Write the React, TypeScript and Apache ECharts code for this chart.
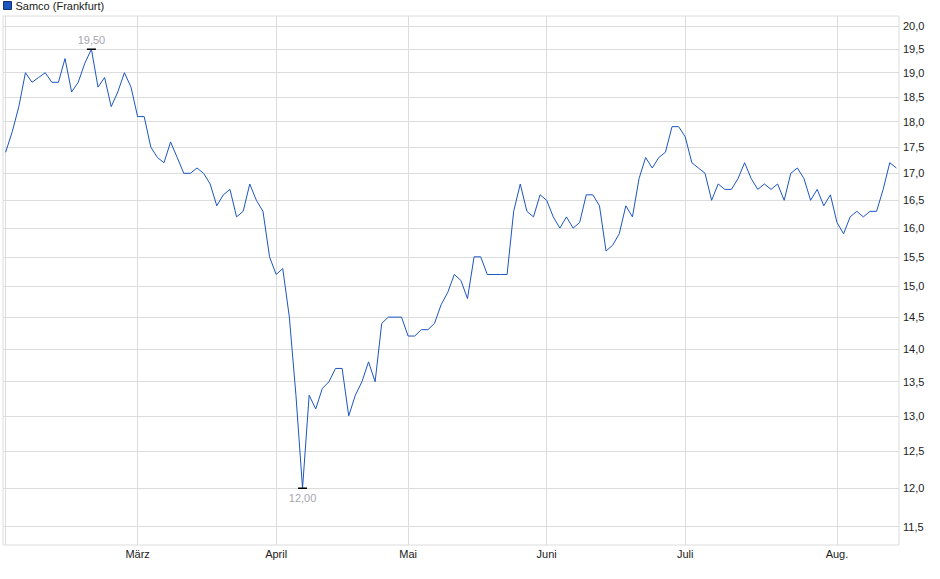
import React, { useEffect, useRef } from 'react';
import * as echarts from 'echarts';

const seriesName = 'Samco (Frankfurt)';

// one closing price per trading day, Feb -> Aug
const prices = [
    17.4, 17.8, 18.3, 19.0, 18.8, 18.9, 19.0, 18.8, 18.8, 19.3,
    18.6, 18.8, 19.2, 19.5, 18.7, 18.9, 18.3, 18.6, 19.0, 18.7,
    18.1, 18.1, 17.5, 17.3, 17.2, 17.6, 17.3, 17.0, 17.0, 17.1,
    17.0, 16.8, 16.4, 16.6, 16.7, 16.2, 16.3, 16.8, 16.5, 16.3,
    15.5, 15.2, 15.3, 14.5, 13.3, 12.0, 13.3, 13.1, 13.4, 13.5,
    13.7, 13.7, 13.0, 13.3, 13.5, 13.8, 13.5, 14.4, 14.5, 14.5,
    14.5, 14.2, 14.2, 14.3, 14.3, 14.4, 14.7, 14.9, 15.2, 15.1,
    14.8, 15.5, 15.5, 15.2, 15.2, 15.2, 15.2, 16.3, 16.8, 16.3,
    16.2, 16.6, 16.5, 16.2, 16.0, 16.2, 16.0, 16.1, 16.6, 16.6,
    16.4, 15.6, 15.7, 15.9, 16.4, 16.2, 16.9, 17.3, 17.1, 17.3,
    17.4, 17.9, 17.9, 17.7, 17.2, 17.1, 17.0, 16.5, 16.8, 16.7,
    16.7, 16.9, 17.2, 16.9, 16.7, 16.8, 16.7, 16.8, 16.5, 17.0,
    17.1, 16.9, 16.5, 16.7, 16.4, 16.6, 16.1, 15.9, 16.2, 16.3,
    16.2, 16.3, 16.3, 16.7, 17.2, 17.1,
];

// index of the first trading day of each month
const monthStarts = [0, 20, 41, 61, 82, 103, 126];
const monthLabels = ['', 'März', 'April', 'Mai', 'Juni', 'Juli', 'Aug.'];

const yTicks = [11.5, 12.0, 12.5, 13.0, 13.5, 14.0, 14.5, 15.0, 15.5, 16.0, 16.5, 17.0, 17.5, 18.0, 18.5, 19.0, 19.5, 20.0];

const font = '"Liberation Sans", Arial, sans-serif';
const gridColor = '#dcdcdc';
const lineColor = '#1c55c0';

const deNum = (v: number, d: number) => v.toFixed(d).replace('.', ',');

const App: React.FC = () => {
    const chartRef = useRef<HTMLDivElement>(null);

    useEffect(() => {
        if (!chartRef.current) return;
        const chart = echarts.init(chartRef.current, null, { renderer: 'svg' });

        const data = prices.map((p, i) => [i, p]);

        chart.setOption({
            animation: false,
            textStyle: { fontFamily: font },
            legend: {
                data: [seriesName],
                left: 3,
                top: 0,
                padding: 0,
                icon: 'rect',
                itemWidth: 8,
                itemHeight: 8,
                itemGap: 4,
                textStyle: { fontSize: 11, color: '#222', fontFamily: font, padding: [0, 0, 0, -1] },
                itemStyle: { borderColor: '#13306e', borderWidth: 1 },
                selectedMode: false,
            },
            grid: {
                left: 3,
                right: 41,
                top: 16,
                bottom: 34,
                show: true,
                borderColor: gridColor,
                borderWidth: 1,
            },
            xAxis: {
                type: 'value',
                min: -0.4,
                max: prices.length - 1 + 0.4,
                axisLine: { show: false },
                axisTick: { show: false },
                splitLine: { show: false },
                axisLabel: {
                    customValues: monthStarts.slice(1),
                    formatter: (v: number) => monthLabels[monthStarts.indexOf(Math.round(v))] ?? '',
                    fontSize: 11,
                    color: '#222',
                    margin: 3,
                    fontFamily: font,
                },
            },
            yAxis: {
                type: 'log',
                logBase: 10,
                min: 11.27,
                max: 20.23,
                position: 'right',
                axisLine: { show: false },
                axisTick: { show: false },
                axisLabel: { show: false },
                splitLine: { show: false },
            },
            series: [
                {
                    name: 'raster',
                    type: 'line',
                    data,
                    z: 1,
                    silent: true,
                    showSymbol: false,
                    lineStyle: { opacity: 0 },
                    markLine: {
                        silent: true,
                        z: 1,
                        symbol: ['none', 'none'],
                        animation: false,
                        lineStyle: { color: gridColor, type: 'solid', width: 1 },
                        emphasis: { disabled: true },
                        data: [
                            ...yTicks.map(t => ({
                                yAxis: t,
                                label: {
                                    show: true,
                                    position: 'end',
                                    distance: 4,
                                    formatter: deNum(t, 1),
                                    color: '#222',
                                    fontSize: 11,
                                    fontFamily: font,
                                },
                            })),
                            ...monthStarts.map(m => ({ xAxis: m, label: { show: false } })),
                        ],
                    },
                },
                {
                    name: seriesName,
                    type: 'line',
                    data,
                    z: 3,
                    showSymbol: false,
                    symbol: 'none',
                    color: lineColor,
                    lineStyle: { color: lineColor, width: 1 },
                    markPoint: {
                        symbol: 'rect',
                        symbolSize: [9, 1.5],
                        itemStyle: { color: '#000' },
                        silent: true,
                        data: [
                            {
                                type: 'max',
                                label: { position: 'top', distance: 3 },
                            },
                            {
                                type: 'min',
                                label: { position: 'bottom', distance: 4 },
                            },
                        ],
                        label: {
                            show: true,
                            color: '#a6a6ae',
                            fontSize: 11,
                            fontFamily: font,
                            formatter: (p: any) => deNum(p.value, 2),
                        },
                    },
                },
            ],
        });

        const resize = () => chart.resize();
        window.addEventListener('resize', resize);
        return () => {
            window.removeEventListener('resize', resize);
            chart.dispose();
        };
    }, []);

    return <div ref={chartRef} style={{ position: 'fixed', left: 0, top: 0, width: 940, height: 579, background: '#fff' }} />;
};

export default App;
